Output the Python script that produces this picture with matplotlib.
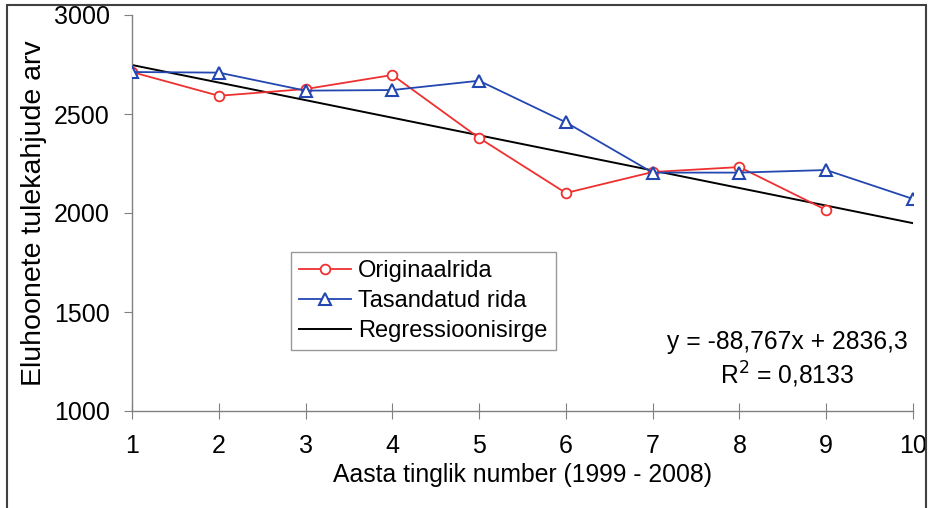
import numpy as np
import matplotlib.pyplot as plt
from matplotlib.patches import Rectangle

plt.rcParams['font.family'] = ['Liberation Sans', 'DejaVu Sans']

aasta = [1, 2, 3, 4, 5, 6, 7, 8, 9, 10]
originaal = [2712, 2592, 2626, 2697, 2379, 2101, 2207, 2232, 2015]
tasandatud = [2712, 2709, 2618, 2621, 2668, 2458, 2204, 2204, 2217, 2071]
# regressioonisirge y = a*x + b (diagrammilt)
reg_a = -88.767
reg_b = 2836.3

fig = plt.figure(figsize=(9.3, 5.08), dpi=100)
ax = fig.add_axes([132/930, 1-411/508, (913-132)/930, (411-15)/508])

ax.plot(aasta[:len(originaal)], originaal, color='#ee3030', lw=1.3, marker='o',
        ms=7, mfc='white', mec='#ee3030', mew=1.3, label='Originaalrida', zorder=3)
ax.plot(aasta, tasandatud, color='#2347b0', lw=1.3, marker='^',
        ms=8, mfc='white', mec='#2347b0', mew=1.5, label='Tasandatud rida', zorder=4)
xr = np.array([aasta[0], aasta[-1]])
ax.plot(xr, reg_a*xr + reg_b, color='black', lw=1.4, label='Regressioonisirge', zorder=2)

ax.set_xlim(1, 10)
ax.set_ylim(1000, 3000)
ax.set_xticks(aasta)
ax.set_yticks([1000, 1500, 2000, 2500, 3000])
for s in ['top', 'right']:
    ax.spines[s].set_visible(False)
for s in ['left', 'bottom']:
    ax.spines[s].set_color('#808080')
    ax.spines[s].set_linewidth(1.0)
ax.tick_params(axis='y', direction='out', length=6, color='#808080', labelsize=18, pad=10)
ax.tick_params(axis='x', direction='inout', length=11, color='#808080', labelsize=18, pad=11)

ax.set_xlabel('Aasta tinglik number (1999 - 2008)', fontsize=17.8, labelpad=4)
ax.set_ylabel('Eluhoonete tulekahjude arv', fontsize=20.5, labelpad=5)

leg = ax.legend(loc='upper left', bbox_to_anchor=(291/930, 1-252/508),
                bbox_transform=fig.transFigure, fontsize=17, frameon=True,
                fancybox=False, edgecolor='#808080', handlelength=2.2,
                borderpad=0.35, labelspacing=0.33, handletextpad=0.3,
                borderaxespad=0)
leg.get_frame().set_linewidth(1.0)

fig.text(787/930, 1-342/508, 'y = -88,767x + 2836,3', ha='center', va='center', fontsize=17.7)
fig.text(787/930, 1-375/508, 'R$^2$ = 0,8133', ha='center', va='center', fontsize=17.7)

fig.patches.append(Rectangle((7/930, -0.02), (926-7)/930, 1-5/508+0.02,
                             transform=fig.transFigure, fill=False,
                             edgecolor='#404040', lw=1.5))

fig.savefig('out.png', dpi=100)
